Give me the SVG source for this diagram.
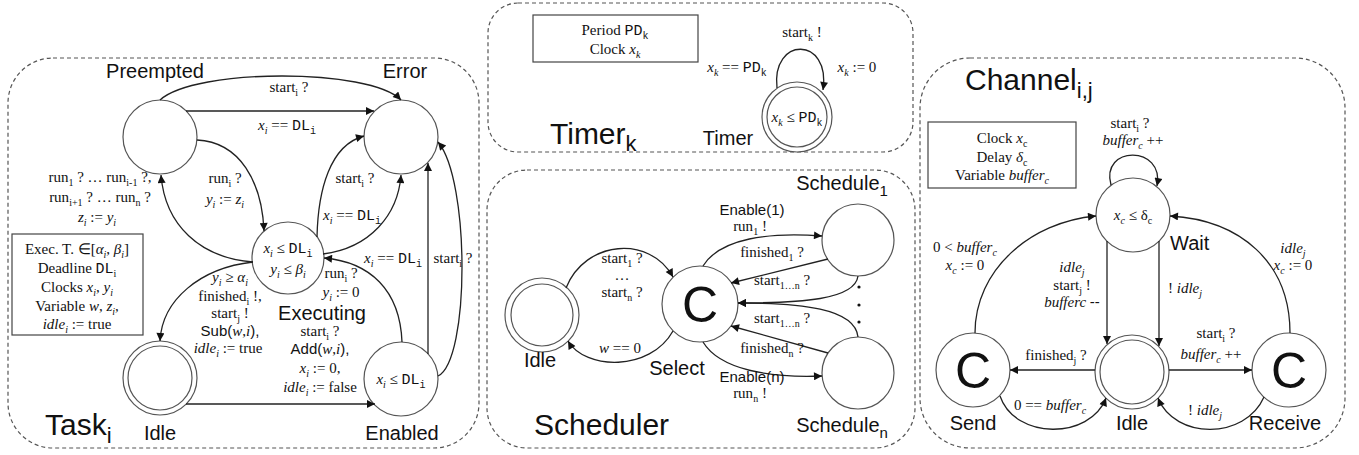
<svg xmlns="http://www.w3.org/2000/svg" width="1359" height="455" viewBox="0 0 1359 455">
<defs>
<marker id="arr" viewBox="0 0 10 10" refX="10" refY="5" markerWidth="10" markerHeight="8" orient="auto" markerUnits="userSpaceOnUse"><path d="M0,0 L10,5 L0,10 z" fill="#111"/></marker>
<style>
.panel{fill:none;stroke:#555;stroke-width:1.2;stroke-dasharray:4 3}
.node{fill:#fff;stroke:#555;stroke-width:1.2}
.box{fill:#fff;stroke:#444;stroke-width:1.2}
.edge{fill:none;stroke:#222;stroke-width:1.3;marker-end:url(#arr)}
text{fill:#111}
.l{font-family:"Liberation Serif",serif;font-size:15px;text-anchor:middle}
.ls{font-family:"Liberation Sans",sans-serif}
.st{font-family:"Liberation Sans",sans-serif;font-size:20px;text-anchor:middle}
.ti{font-family:"Liberation Sans",sans-serif;font-size:30px}
.C{font-family:"Liberation Sans",sans-serif;font-size:50px;text-anchor:middle}
.i{font-style:italic}
.m{font-family:"Liberation Mono",monospace}
.s{font-size:10px}
.dot{fill:#111}
</style>
</defs>
<rect width="1359" height="455" fill="#fff"/>

<!-- panels -->
<g id="panels">
<rect class="panel" x="8" y="58" width="471" height="390" rx="45"/>
<rect class="panel" x="488" y="3" width="425" height="149" rx="30"/>
<rect class="panel" x="487" y="170" width="428" height="278" rx="40"/>
<rect class="panel" x="920" y="58" width="425" height="390" rx="50"/>
<text class="ti" x="45" y="435">Task<tspan dy="8" font-size="22">i</tspan></text>
<text class="ti" x="550" y="144">Timer<tspan dy="7" font-size="22">k</tspan></text>
<text class="ti" x="534" y="435">Scheduler</text>
<text class="ti" x="965" y="90">Channel<tspan dy="8" font-size="22">i,j</tspan></text>
</g>

<!-- ===== Task nodes ===== -->
<g id="task-preempted">
<circle class="node" cx="160" cy="137" r="37"/>
<text class="st" x="155" y="78">Preempted</text>
</g>
<g id="task-error">
<circle class="node" cx="401" cy="137" r="37"/>
<text class="st" x="405" y="78">Error</text>
</g>
<g id="task-executing">
<circle class="node" cx="288" cy="258" r="36"/>
<text class="l" x="288" y="253"><tspan class="i">x</tspan><tspan class="s i" dy="4">i</tspan><tspan dy="-4"> ≤ </tspan><tspan class="m">DL</tspan><tspan class="m s" dy="4">i</tspan></text>
<text class="l" x="288" y="274"><tspan class="i">y</tspan><tspan class="s i" dy="4">i</tspan><tspan dy="-4"> ≤ </tspan><tspan class="i">β</tspan><tspan class="s i" dy="4">i</tspan></text>
<text class="st" x="322" y="320">Executing</text>
</g>
<g id="task-idle">
<circle class="node" cx="160" cy="378" r="37"/>
<circle class="node" cx="160" cy="378" r="32"/>
<text class="st" x="160" y="440">Idle</text>
</g>
<g id="task-enabled">
<circle class="node" cx="401" cy="379" r="37"/>
<text class="l" x="401" y="384"><tspan class="i">x</tspan><tspan class="s i" dy="4">i</tspan><tspan dy="-4"> ≤ </tspan><tspan class="m">DL</tspan><tspan class="m s" dy="4">i</tspan></text>
<text class="st" x="402" y="440">Enabled</text>
</g>
<g id="task-info">
<rect class="box" x="12" y="234" width="131" height="101"/>
<text class="l" x="77" y="254">Exec. T. ∈[<tspan class="i">α</tspan><tspan class="s i" dy="4">i</tspan><tspan dy="-4">, </tspan><tspan class="i">β</tspan><tspan class="s i" dy="4">i</tspan><tspan dy="-4">]</tspan></text>
<text class="l" x="77" y="273">Deadline <tspan class="m">DL</tspan><tspan class="s" dy="4">i</tspan></text>
<text class="l" x="77" y="292">Clocks <tspan class="i">x</tspan><tspan class="s i" dy="4">i</tspan><tspan dy="-4">, </tspan><tspan class="i">y</tspan><tspan class="s i" dy="4">i</tspan></text>
<text class="l" x="77" y="311">Variable <tspan class="i">w</tspan>, <tspan class="i">z</tspan><tspan class="s i" dy="4">i</tspan><tspan dy="-4">,</tspan></text>
<text class="l" x="77" y="329"><tspan class="i">idle</tspan><tspan class="s i" dy="4">i</tspan><tspan dy="-4"> := true</tspan></text>
</g>

<!-- ===== Timer ===== -->
<g id="timer-info">
<rect class="box" x="533" y="15" width="165" height="47"/>
<text class="l" x="615" y="35">Period <tspan class="m">PD</tspan><tspan class="m s" dy="4">k</tspan></text>
<text class="l" x="615" y="54">Clock <tspan class="i">x</tspan><tspan class="s i" dy="4">k</tspan></text>
</g>
<g id="timer-node">
<circle class="node" cx="797" cy="117" r="35"/>
<circle class="node" cx="797" cy="117" r="30"/>
<text class="l" x="797" y="122"><tspan class="i">x</tspan><tspan class="s i" dy="4">k</tspan><tspan dy="-4"> ≤ </tspan><tspan class="m">PD</tspan><tspan class="m s" dy="4">k</tspan></text>
<text class="st" x="728" y="145">Timer</text>
</g>

<!-- ===== Scheduler ===== -->
<g id="sched-idle">
<circle class="node" cx="542" cy="315" r="37"/>
<circle class="node" cx="542" cy="315" r="31"/>
<text class="st" x="540" y="367">Idle</text>
</g>
<g id="sched-select">
<circle class="node" cx="700" cy="304" r="38"/>
<text class="C" x="700" y="322">C</text>
<text class="st" x="677" y="375">Select</text>
</g>
<g id="sched-schedule1">
<circle class="node" cx="858" cy="240" r="36"/>
<text class="st" x="842" y="190">Schedule<tspan dy="6" font-size="15">1</tspan></text>
</g>
<g id="sched-schedulen">
<circle class="node" cx="858" cy="373" r="36"/>
<text class="st" x="842" y="432">Schedule<tspan dy="6" font-size="15">n</tspan></text>
</g>
<g id="sched-dots">
<circle class="dot" cx="859" cy="287" r="1.6"/>
<circle class="dot" cx="859" cy="305" r="1.6"/>
<circle class="dot" cx="859" cy="322" r="1.6"/>
</g>

<!-- ===== Channel ===== -->
<g id="chan-info">
<rect class="box" x="928" y="122" width="148" height="66"/>
<text class="l" x="1002" y="143">Clock <tspan class="i">x</tspan><tspan class="s" dy="4">c</tspan></text>
<text class="l" x="1002" y="162">Delay <tspan class="i">δ</tspan><tspan class="s" dy="4">c</tspan></text>
<text class="l" x="1002" y="180">Variable <tspan class="i">buffer</tspan><tspan class="s i" dy="4">c</tspan></text>
</g>
<g id="chan-wait">
<circle class="node" cx="1133" cy="215" r="37"/>
<text class="l" x="1133" y="220"><tspan class="i">x</tspan><tspan class="s i" dy="4">c</tspan><tspan dy="-4"> ≤ δ</tspan><tspan class="s" dy="4">c</tspan></text>
<text class="st" x="1170" y="250" style="text-anchor:start">Wait</text>
</g>
<g id="chan-idle">
<circle class="node" cx="1132" cy="372" r="37"/>
<circle class="node" cx="1132" cy="372" r="32"/>
<text class="st" x="1132" y="430">Idle</text>
</g>
<g id="chan-send">
<circle class="node" cx="973" cy="370" r="37"/>
<text class="C" x="973" y="388">C</text>
<text class="st" x="973" y="430">Send</text>
</g>
<g id="chan-receive">
<circle class="node" cx="1289" cy="370" r="37"/>
<text class="C" x="1289" y="388">C</text>
<text class="st" x="1285" y="430">Receive</text>
</g>

<!-- ===== connectors ===== -->
<g id="connectors">
<!-- task -->
<path class="edge" d="M160 100 C195 68 370 68 401 100"/>
<path class="edge" d="M186 111 L374 111"/>
<path class="edge" d="M197 140 C240 142 262 182 264 231"/>
<path class="edge" d="M253 262 C200 258 165 225 161 175"/>
<path class="edge" d="M253 262 C200 268 162 300 160 341"/>
<path class="edge" d="M317 237 C318 190 330 145 364 136"/>
<path class="edge" d="M323 254 C370 248 398 215 401 175"/>
<path class="edge" d="M402 342 C400 290 370 262 324 258"/>
<path class="edge" d="M428 354 L428 163"/>
<path class="edge" d="M438 376 C470 360 470 180 438 142"/>
<path class="edge" d="M186 404 L375 404"/>
<!-- timer -->
<path class="edge" d="M777 88 C771 36 831 36 823 90"/>
<!-- scheduler -->
<path class="edge" d="M566 288 C585 240 650 235 673 277"/>
<path class="edge" d="M673 331 C650 372 585 370 568 341"/>
<path class="edge" d="M703 266 C720 238 770 232 822 236"/>
<path class="edge" d="M828 259 L731 283"/>
<path class="edge" d="M858 276 C855 300 800 303 738 303"/>
<path class="edge" d="M858 337 C855 308 800 303 738 303"/>
<path class="edge" d="M828 353 L731 326"/>
<path class="edge" d="M703 342 C720 370 770 378 822 376"/>
<!-- channel -->
<path class="edge" d="M1111 185 C1100 145 1165 145 1157 186"/>
<path class="edge" d="M975 333 C975 270 1030 222 1096 216"/>
<path class="edge" d="M1107 241 L1107 344"/>
<path class="edge" d="M1159 241 L1159 346"/>
<path class="edge" d="M1095 370 L1010 370"/>
<path class="edge" d="M1000 396 C1015 440 1090 440 1106 398"/>
<path class="edge" d="M1169 370 L1252 370"/>
<path class="edge" d="M1264 397 C1245 440 1175 440 1158 398"/>
<path class="edge" d="M1290 333 C1290 262 1240 220 1170 216"/>
</g>

<!-- ===== edge labels ===== -->
<g id="edge-labels">
<!-- task -->
<text class="l" x="289" y="92">start<tspan class="s" dy="4">i</tspan><tspan dy="-4"> ?</tspan></text>
<text class="l" x="287" y="130"><tspan class="i">x</tspan><tspan class="s i" dy="4">i</tspan><tspan dy="-4"> == </tspan><tspan class="m">DL</tspan><tspan class="m s" dy="4">i</tspan></text>
<text class="l" x="225" y="183">run<tspan class="s" dy="4">i</tspan><tspan dy="-4"> ?</tspan></text>
<text class="l" x="225" y="204"><tspan class="i">y</tspan><tspan class="s i" dy="4">i</tspan><tspan dy="-4"> := </tspan><tspan class="i">z</tspan><tspan class="s i" dy="4">i</tspan></text>
<text class="l" x="100" y="182">run<tspan class="s" dy="4">1</tspan><tspan dy="-4"> ? … run</tspan><tspan class="s" dy="4">i-1</tspan><tspan dy="-4"> ?,</tspan></text>
<text class="l" x="100" y="202">run<tspan class="s" dy="4">i+1</tspan><tspan dy="-4"> ? … run</tspan><tspan class="s" dy="4">n</tspan><tspan dy="-4"> ?</tspan></text>
<text class="l" x="97" y="222"><tspan class="i">z</tspan><tspan class="s i" dy="4">i</tspan><tspan dy="-4"> := </tspan><tspan class="i">y</tspan><tspan class="s i" dy="4">i</tspan></text>
<text class="l" x="355" y="183">start<tspan class="s" dy="4">i</tspan><tspan dy="-4"> ?</tspan></text>
<text class="l" x="352" y="220"><tspan class="i">x</tspan><tspan class="s i" dy="4">i</tspan><tspan dy="-4"> == </tspan><tspan class="m">DL</tspan><tspan class="m s" dy="4">i</tspan></text>
<text class="l" x="393" y="263"><tspan class="i">x</tspan><tspan class="s i" dy="4">i</tspan><tspan dy="-4"> == </tspan><tspan class="m">DL</tspan><tspan class="m s" dy="4">i</tspan></text>
<text class="l" x="453" y="263">start<tspan class="s" dy="4">i</tspan><tspan dy="-4"> ?</tspan></text>
<text class="l" x="341" y="278">run<tspan class="s" dy="4">i</tspan><tspan dy="-4"> ?</tspan></text>
<text class="l" x="341" y="297"><tspan class="i">y</tspan><tspan class="s i" dy="4">i</tspan><tspan dy="-4"> := 0</tspan></text>
<text class="l" x="230" y="282"><tspan class="i">y</tspan><tspan class="s i" dy="4">i</tspan><tspan dy="-4">  ≥ </tspan><tspan class="i">α</tspan><tspan class="s i" dy="4">i</tspan></text>
<text class="l" x="230" y="301">finished<tspan class="s" dy="4">i</tspan><tspan dy="-4"> !,</tspan></text>
<text class="l" x="230" y="318">start<tspan class="s" dy="4">j</tspan><tspan dy="-4"> !</tspan></text>
<text class="l" x="230" y="336"><tspan class="ls">Sub(</tspan><tspan class="i">w</tspan>,<tspan class="i">i</tspan><tspan class="ls">),</tspan></text>
<text class="l" x="228" y="353"><tspan class="i">idle</tspan><tspan class="s i" dy="4">i</tspan><tspan dy="-4"> := true</tspan></text>
<text class="l" x="320" y="336">start<tspan class="s" dy="4">i</tspan><tspan dy="-4"> ?</tspan></text>
<text class="l" x="320" y="354"><tspan class="ls">Add(</tspan><tspan class="i">w</tspan>,<tspan class="i">i</tspan><tspan class="ls">),</tspan></text>
<text class="l" x="320" y="373"><tspan class="i">x</tspan><tspan class="s i" dy="4">i</tspan><tspan dy="-4"> := 0,</tspan></text>
<text class="l" x="320" y="392"><tspan class="i">idle</tspan><tspan class="s i" dy="4">i</tspan><tspan dy="-4"> := false</tspan></text>
<!-- timer -->
<text class="l" x="802" y="37">start<tspan class="s" dy="4">k</tspan><tspan dy="-4"> !</tspan></text>
<text class="l" x="737" y="72"><tspan class="i">x</tspan><tspan class="s i" dy="4">k</tspan><tspan dy="-4"> ==  </tspan><tspan class="m">PD</tspan><tspan class="m s" dy="4">k</tspan></text>
<text class="l" x="857" y="72"><tspan class="i">x</tspan><tspan class="s i" dy="4">k</tspan><tspan dy="-4"> := 0</tspan></text>
<!-- scheduler -->
<text class="l" x="622" y="263">start<tspan class="s" dy="4">1</tspan><tspan dy="-4"> ?</tspan></text>
<text class="l" x="622" y="280" font-size="10">…</text>
<text class="l" x="622" y="297">start<tspan class="s" dy="4">n</tspan><tspan dy="-4"> ?</tspan></text>
<text class="l" x="620" y="353"><tspan class="i">w</tspan> == 0</text>
<text class="l ls" x="752" y="215" font-size="14">Enable(1)</text>
<text class="l" x="750" y="231">run<tspan class="s" dy="4">1</tspan><tspan dy="-4"> !</tspan></text>
<text class="l" x="772" y="257">finished<tspan class="s" dy="4">1</tspan><tspan dy="-4"> ?</tspan></text>
<text class="l" x="782" y="285">start<tspan class="s" dy="4">1…n</tspan><tspan dy="-4"> ?</tspan></text>
<text class="l" x="782" y="323">start<tspan class="s" dy="4">1…n</tspan><tspan dy="-4"> ?</tspan></text>
<text class="l" x="772" y="353">finished<tspan class="s" dy="4">n</tspan><tspan dy="-4"> ?</tspan></text>
<text class="l ls" x="752" y="382" font-size="14">Enable(n)</text>
<text class="l" x="750" y="398">run<tspan class="s" dy="4">n</tspan><tspan dy="-4"> !</tspan></text>
<!-- channel -->
<text class="l" x="1130" y="128">start<tspan class="s" dy="4">i</tspan><tspan dy="-4"> ?</tspan></text>
<text class="l" x="1133" y="145"><tspan class="i">buffer</tspan><tspan class="s i" dy="4">c</tspan><tspan dy="-4"> ++</tspan></text>
<text class="l" x="965" y="252">0 &lt; <tspan class="i">buffer</tspan><tspan class="s i" dy="4">c</tspan></text>
<text class="l" x="965" y="270"><tspan class="i">x</tspan><tspan class="s i" dy="4">c</tspan><tspan dy="-4"> := 0</tspan></text>
<text class="l" x="1072" y="272"><tspan class="i">idle</tspan><tspan class="s i" dy="4">j</tspan></text>
<text class="l" x="1072" y="290">start<tspan class="s" dy="4">j</tspan><tspan dy="-4"> !</tspan></text>
<text class="l" x="1072" y="307"><tspan class="i">bufferc</tspan> <tspan class="ls">--</tspan></text>
<text class="l" x="1185" y="293">! <tspan class="i">idle</tspan><tspan class="s i" dy="4">j</tspan></text>
<text class="l" x="1056" y="360">finished<tspan class="s" dy="4">j</tspan><tspan dy="-4"> ?</tspan></text>
<text class="l" x="1050" y="410">0 == <tspan class="i">buffer</tspan><tspan class="s i" dy="4">c</tspan></text>
<text class="l" x="1216" y="338">start<tspan class="s" dy="4">i</tspan><tspan dy="-4"> ?</tspan></text>
<text class="l" x="1211" y="359"><tspan class="i">buffer</tspan><tspan class="s i" dy="4">c</tspan><tspan dy="-4"> ++</tspan></text>
<text class="l" x="1205" y="415">! <tspan class="i">idle</tspan><tspan class="s i" dy="4">j</tspan></text>
<text class="l" x="1293" y="253"><tspan class="i">idle</tspan><tspan class="s i" dy="4">j</tspan></text>
<text class="l" x="1293" y="270"><tspan class="i">x</tspan><tspan class="s i" dy="4">c</tspan><tspan dy="-4"> := 0</tspan></text>
</g>
</svg>
